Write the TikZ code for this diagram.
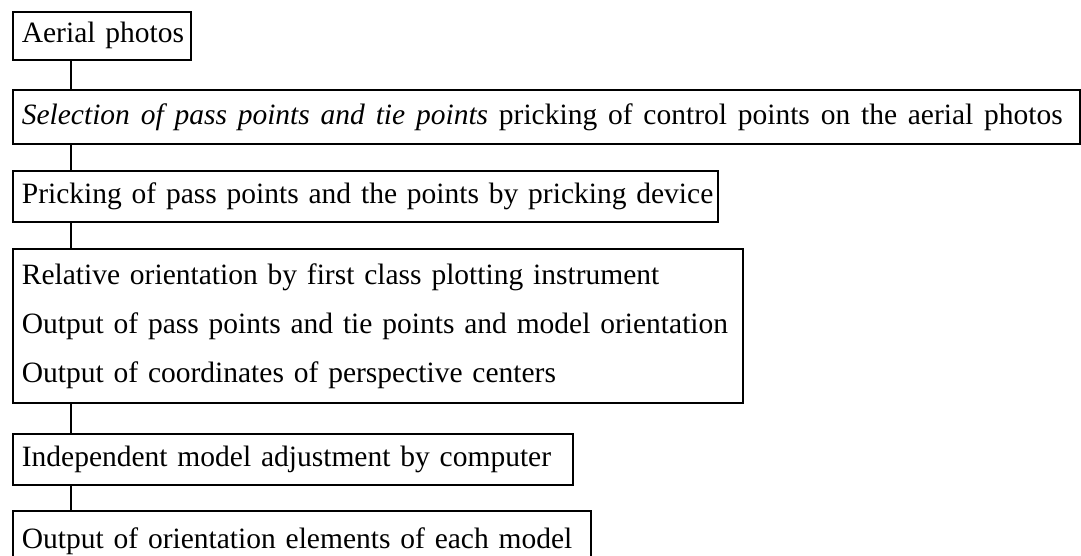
\documentclass[tikz,border=0pt]{standalone}
\usepackage{fontspec}
\setmainfont{Liberation Serif}
\begin{document}
\begin{tikzpicture}[x=1pt,y=-1pt,
  stepbox/.style={draw, line width=1.7pt, anchor=north west, inner xsep=9pt,
    inner ysep=0pt, align=left, font=\fontsize{29.5}{36}\selectfont},
  link/.style={line width=1.7pt}]
\useasboundingbox (0,0) rectangle (1081,555);
\clip (0,0) rectangle (1081,555);

% process steps, top to bottom
\node[stepbox, text width=160pt, minimum height=48pt] (aerial) at (12,11)
  {\mbox{Aerial photos}};
\node[stepbox, text width=1049pt, minimum height=54pt] (select) at (12,89)
  {\hbox to 1041pt{\spaceskip=7.4pt plus 30pt\relax
   {\itshape Selection of pass points and tie points} pricking of control points on the aerial photos}};
\node[stepbox, text width=687pt, minimum height=51pt] (prick) at (12,170)
  {\mbox{Pricking of pass points and the points by pricking device}};
\node[stepbox, text width=712pt, minimum height=154pt,
      font=\fontsize{29.5}{49}\selectfont] (relative) at (12,248)
  {\mbox{Relative orientation by first class plotting instrument}\\
   \mbox{Output of pass points and tie points and model orientation}\\
   \mbox{Output of coordinates of perspective centers}};
\node[stepbox, text width=542pt, minimum height=51pt] (adjust) at (12,433)
  {\mbox{Independent model adjustment by computer}};
\node[stepbox, text width=560pt, minimum height=60pt] (elements) at (12,510)
  {\mbox{Output of orientation elements of each model}};

% vertical links between consecutive steps
\coordinate (spine) at (71,0);
\draw[link] (aerial.south -| spine) -- (select.north -| spine);
\draw[link] (select.south -| spine) -- (prick.north -| spine);
\draw[link] (prick.south -| spine) -- (relative.north -| spine);
\draw[link] (relative.south -| spine) -- (adjust.north -| spine);
\draw[link] (adjust.south -| spine) -- (elements.north -| spine);
\end{tikzpicture}
\end{document}
